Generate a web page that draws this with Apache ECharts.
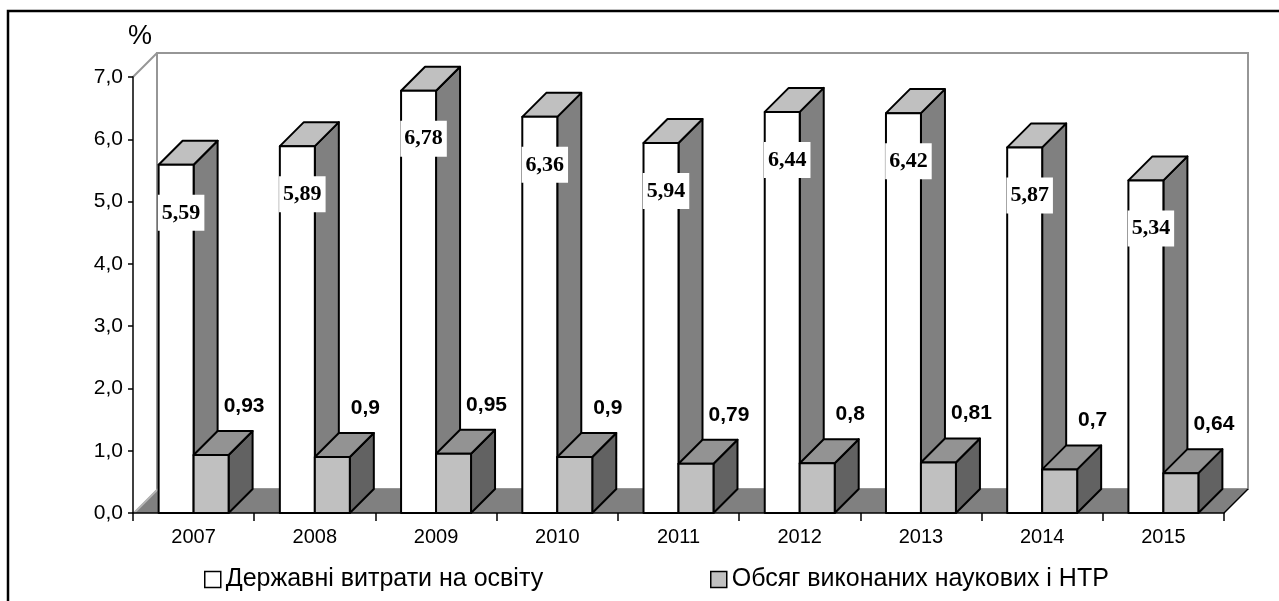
<!DOCTYPE html>
<html>
<head>
<meta charset="utf-8">
<script src="https://cdn.jsdelivr.net/npm/echarts@6/dist/echarts.min.js"></script>
<style>
  html, body { margin: 0; padding: 0; background: #fff; }
  #chart { width: 1279px; height: 601px; }
</style>
</head>
<body>
<div id="chart"></div>
<script>
// Years on the category axis
const years = ['2007', '2008', '2009', '2010', '2011', '2012', '2013', '2014', '2015'];
// Державні витрати на освіту, % of GDP
const educationSpending = [5.59, 5.89, 6.78, 6.36, 5.94, 6.44, 6.42, 5.87, 5.34];
// Обсяг виконаних наукових і НТР, % of GDP
const researchVolume = [0.93, 0.9, 0.95, 0.9, 0.79, 0.8, 0.81, 0.7, 0.64];

const seriesNames = ['Державні витрати на освіту', 'Обсяг виконаних наукових і НТР'];

const SANS = '"Liberation Sans", Arial, sans-serif';
const SERIF = '"Liberation Serif", "Times New Roman", serif';

const BAR_FRAC = 0.2886;   // one column's width as a share of the category band
const DEPTH_FRAC = 0.198;  // depth of the pseudo-3D box as a share of the band

const WHITE_FACES = { front: '#ffffff', top: '#c0c0c0', side: '#808080' };
const GRAY_FACES = { front: '#c0c0c0', top: '#939393', side: '#626262' };

const comma = v => String(v).replace('.', ',');

// Walls and floor of the pseudo-3D plot box
function renderWalls(params, api) {
  const cs = params.coordSys;
  const band = cs.width / years.length;
  const d = band * DEPTH_FRAC;
  const x = cs.x, y = cs.y, w = cs.width, h = cs.height;
  const wallStroke = '#969696';
  return {
    type: 'group',
    children: [
      { type: 'polygon', shape: { points: [[x, y + h], [x + d, y + h - d], [x + d, y - d], [x, y]] },
        style: { fill: '#fff', stroke: null } },
      { type: 'rect', shape: { x: x + d, y: y - d, width: w, height: h },
        style: { fill: '#fff', stroke: wallStroke, lineWidth: 2 } },
      { type: 'line', shape: { x1: x, y1: y, x2: x + d, y2: y - d },
        style: { stroke: wallStroke, lineWidth: 2 } },
      { type: 'polygon', shape: { points: [[x, y + h], [x + w, y + h], [x + w + d, y + h - d], [x + d, y + h - d]] },
        style: { fill: '#808080', stroke: null } },
      { type: 'line', shape: { x1: x + 1, y1: y + h, x2: x + d + 1, y2: y + h - d },
        style: { stroke: '#b4b4b4', lineWidth: 2 } },
      { type: 'line', shape: { x1: x + w, y1: y + h, x2: x + w + d, y2: y + h - d },
        style: { stroke: '#000', lineWidth: 1.5 } }
    ]
  };
}

// Builds a renderer for one column of each cluster (slot 0 = left, slot 1 = right)
function makeBarRenderer(slot, colors, label) {
  return function (params, api) {
    const cat = api.value(0);
    const v = api.value(1);
    const base = api.coord([cat, 0]);
    const top = api.coord([cat, v]);
    const band = api.size([1, 0])[0];
    const bw = band * BAR_FRAC;
    const d = band * DEPTH_FRAC;
    const x0 = base[0] - bw + slot * bw;
    const x1 = x0 + bw;
    const yt = top[1], yb = base[1];
    const edge = { stroke: '#000', lineWidth: 2, lineJoin: 'round' };
    const children = [
      { type: 'polygon', shape: { points: [[x1, yt], [x1 + d, yt - d], [x1 + d, yb - d], [x1, yb]] },
        style: Object.assign({ fill: colors.side }, edge) },
      { type: 'polygon', shape: { points: [[x0, yt], [x1, yt], [x1 + d, yt - d], [x0 + d, yt - d]] },
        style: Object.assign({ fill: colors.top }, edge) },
      { type: 'rect', shape: { x: x0, y: yt, width: bw, height: yb - yt },
        style: Object.assign({ fill: colors.front }, edge) }
    ];
    const cx = (x0 + x1) / 2;
    children.push({
      type: 'text',
      x: cx + label.dx,
      y: yt + label.dy,
      z2: 10,
      style: Object.assign({
        text: comma(v),
        align: 'center',
        verticalAlign: 'middle',
        fill: '#000'
      }, label.style)
    });
    return { type: 'group', children: children };
  };
}

const legendText = { color: '#000', fontFamily: SANS, fontSize: 25 };
const legendIcon = fill => ({ color: fill, borderColor: '#000', borderWidth: 1.5 });

const chart = echarts.init(document.getElementById('chart'), null, { renderer: 'canvas' });

chart.setOption({
  animation: false,
  backgroundColor: '#fff',
  grid: { left: 133, right: 55, top: 77, bottom: 88, containLabel: false },
  xAxis: {
    type: 'category',
    data: years,
    boundaryGap: true,
    z: 10,
    axisLine: { lineStyle: { color: '#000', width: 1.5 } },
    axisTick: { show: true, length: 8, lineStyle: { color: '#000', width: 1.5 } },
    axisLabel: { color: '#000', fontFamily: SANS, fontSize: 20, margin: 14 },
    splitLine: { show: false }
  },
  yAxis: {
    type: 'value',
    min: 0,
    max: 7,
    interval: 1,
    z: 10,
    name: '%',
    nameGap: 27,
    nameTextStyle: { color: '#000', fontFamily: SANS, fontSize: 27, padding: [0, 0, 0, 14] },
    axisLine: { show: true, lineStyle: { color: '#000', width: 1.5 } },
    axisTick: { show: true, length: 5, lineStyle: { color: '#000', width: 1.5 } },
    axisLabel: { color: '#000', fontFamily: SANS, fontSize: 21, margin: 10,
      formatter: v => v.toFixed(1).replace('.', ',') },
    splitLine: { show: false }
  },
  legend: [
    {
      data: [{ name: seriesNames[0], itemStyle: legendIcon(WHITE_FACES.front) }],
      left: 199, top: 562,
      itemWidth: 16, itemHeight: 16, icon: 'rect',
      selectedMode: false,
      textStyle: legendText
    },
    {
      data: [{ name: seriesNames[1], itemStyle: legendIcon(GRAY_FACES.front) }],
      left: 705, top: 562,
      itemWidth: 16, itemHeight: 16, icon: 'rect',
      selectedMode: false,
      textStyle: legendText
    }
  ],
  graphic: [
    { type: 'rect', silent: true, z: 100,
      shape: { x: 8, y: 11, width: 1400, height: 800 },
      style: { fill: null, stroke: '#000', lineWidth: 2.5 } }
  ],
  series: [
    {
      type: 'custom',
      name: 'walls',
      silent: true,
      z: 1,
      data: [[0, 0]],
      renderItem: renderWalls
    },
    {
      type: 'custom',
      name: seriesNames[0],
      z: 2,
      itemStyle: legendIcon(WHITE_FACES.front),
      data: educationSpending.map((v, i) => [i, v]),
      encode: { x: 0, y: 1 },
      renderItem: makeBarRenderer(0, WHITE_FACES, {
        dx: 5, dy: 48,
        style: { font: 'bold 22px ' + SERIF, backgroundColor: '#fff', padding: [8, 4, 6, 4] }
      })
    },
    {
      type: 'custom',
      name: seriesNames[1],
      z: 3,
      itemStyle: legendIcon(GRAY_FACES.front),
      data: researchVolume.map((v, i) => [i, v]),
      encode: { x: 0, y: 1 },
      renderItem: makeBarRenderer(1, GRAY_FACES, {
        dx: 33, dy: -49,
        style: { font: 'bold 21px ' + SANS }
      })
    }
  ]
});
</script>
</body>
</html>
